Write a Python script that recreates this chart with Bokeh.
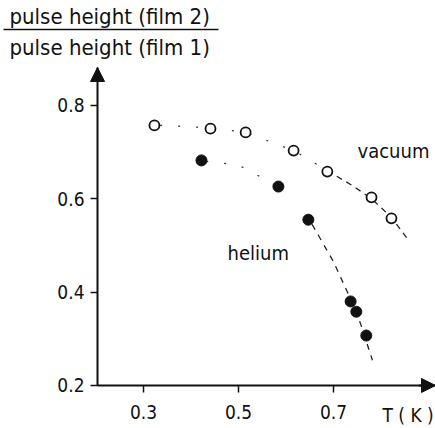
from bokeh.plotting import figure
from bokeh.models import Range1d, FixedTicker, Label, Arrow, NormalHead, LinearAxis
from bokeh.embed import file_html
from bokeh.resources import INLINE

# ---- data ----
vac_T = [0.323, 0.441, 0.515, 0.616, 0.687, 0.780, 0.822]
vac_r = [0.757, 0.750, 0.742, 0.703, 0.658, 0.603, 0.558]
hel_T = [0.422, 0.584, 0.647, 0.736, 0.748, 0.769]
hel_r = [0.682, 0.626, 0.555, 0.380, 0.358, 0.307]

# guide curves (hand-drawn fits)
vac_fit_upper_T = [0.335, 0.441, 0.515, 0.616, 0.687]
vac_fit_upper_r = [0.757, 0.752, 0.742, 0.703, 0.660]
vac_fit_lower_T = [0.687, 0.740, 0.780, 0.822, 0.860]
vac_fit_lower_r = [0.660, 0.628, 0.600, 0.560, 0.508]
hel_fit_upper_T = [0.432, 0.494, 0.515, 0.575]
hel_fit_upper_r = [0.680, 0.673, 0.665, 0.630]
hel_fit_lower_T = [0.655, 0.700, 0.736, 0.757, 0.782]
hel_fit_lower_r = [0.545, 0.465, 0.385, 0.332, 0.254]

x_ticks = [0.3, 0.5, 0.7]
y_ticks = [0.2, 0.4, 0.6, 0.8]
x_axis_span = (0.2032, 0.9147)
y_axis_span = (0.2, 0.881)

FONT = "DejaVu Sans Condensed"
INK = "#111111"
W, H = 435, 428

p = figure(width=W, height=H, output_backend="svg", toolbar_location=None,
           x_range=Range1d(-0.00105, 0.9147), y_range=Range1d(0.10792, 1.02441),
           x_axis_location=None, y_axis_location=None, title=None,
           min_border=0)
p.outline_line_color = None
p.grid.visible = False
p.background_fill_color = "white"
p.border_fill_color = "white"

xax = LinearAxis(fixed_location=y_axis_span[0], bounds=x_axis_span)
yax = LinearAxis(fixed_location=x_axis_span[0], bounds=y_axis_span)
p.add_layout(xax, "below")
p.add_layout(yax, "left")

for ax, ticks in ((xax, x_ticks), (yax, y_ticks)):
    ax.ticker = FixedTicker(ticks=ticks)
    ax.axis_line_width = 2
    ax.axis_line_color = INK
    ax.major_tick_line_color = INK
    ax.major_tick_line_width = 1.5
    ax.major_tick_out = 7
    ax.major_tick_in = 0
    ax.minor_tick_line_color = None
    ax.major_label_text_font = FONT
    ax.major_label_text_font_size = "19px"
    ax.major_label_text_color = INK
xax.major_label_standoff = 13
yax.major_label_standoff = 6

# arrow heads on axes
p.add_layout(Arrow(end=NormalHead(size=14, fill_color=INK, line_color=INK),
                   x_start=0.88, y_start=y_axis_span[0], x_end=x_axis_span[1], y_end=y_axis_span[0],
                   line_color=INK, line_width=2))
p.add_layout(Arrow(end=NormalHead(size=14, fill_color=INK, line_color=INK),
                   x_start=x_axis_span[0], y_start=0.85, x_end=x_axis_span[0], y_end=y_axis_span[1],
                   line_color=INK, line_width=2))

# fit curves
p.line(vac_fit_upper_T, vac_fit_upper_r, line_color="#333", line_width=1.2, line_dash="2 16")
p.line(vac_fit_lower_T, vac_fit_lower_r, line_color="#222", line_width=1.3, line_dash="6 5")
p.line(hel_fit_upper_T, hel_fit_upper_r, line_color="#333", line_width=1.2, line_dash="2 16")
p.line(hel_fit_lower_T, hel_fit_lower_r, line_color="#222", line_width=1.3, line_dash="6 6")

# points
p.scatter(vac_T, vac_r, marker="circle", size=10, fill_color="white",
          line_color=INK, line_width=1.8)
p.scatter(hel_T, hel_r, marker="circle", size=11, fill_color=INK,
          line_color=INK, line_width=1)

# texts (screen units: frame == whole canvas)
def lab(text, x, y, size, align="left", baseline="alphabetic"):
    p.add_layout(Label(x=x, y=H - y, x_units="screen", y_units="screen",
                       text=text, text_font=FONT, text_font_size=size,
                       text_color=INK, text_align=align, text_baseline=baseline))

lab("pulse height (film 2)", 9, 16, "22px")
lab("pulse height (film 1)", 9, 47, "22px")
lab("vacuum", 357, 150, "20px")
lab("helium", 227, 252, "20px")
lab("T ( K )", 382, 414, "19px")

# fraction bar
p.add_layout(Arrow(end=None, start=None, x_start=3, y_start=H - 29,
                   x_end=218, y_end=H - 29, start_units="screen",
                   end_units="screen", line_color=INK, line_width=1.5))

open("out.html", "w").write(file_html(p, INLINE))
